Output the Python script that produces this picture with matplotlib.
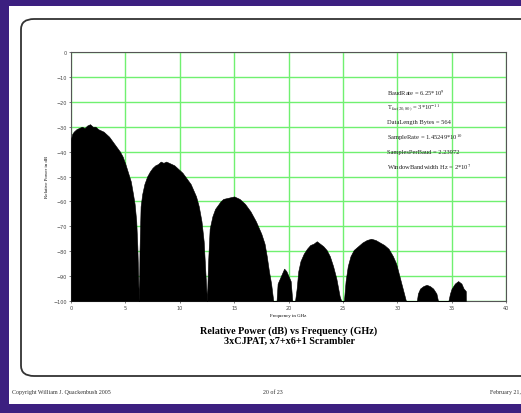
import matplotlib
matplotlib.use("Agg")
import matplotlib.pyplot as plt
from matplotlib.patches import FancyBboxPatch, Rectangle

# spectrum envelope (GHz, dB)
freq_ghz = [0.0, 0.1, 0.25, 0.5, 0.75, 1.0, 1.25, 1.5, 1.75, 2.0, 2.25, 2.5, 2.75, 3.0,
            3.25, 3.5, 3.75, 4.0, 4.25, 4.5, 4.75, 5.0, 5.25, 5.5, 5.7, 5.85, 6.0, 6.1,
            6.2, 6.25,
            6.3, 6.4, 6.55, 6.75, 7.0, 7.25, 7.5, 7.75, 8.0, 8.25, 8.5, 8.75, 9.0, 9.25,
            9.5, 9.75, 10.0, 10.25, 10.5, 10.75, 11.0, 11.25, 11.5, 11.75, 12.0, 12.2,
            12.35, 12.5,
            12.6, 12.75, 13.0, 13.25, 13.5, 13.75, 14.0, 14.5, 15.0, 15.25, 15.5, 16.0,
            16.5, 17.0, 17.5, 17.8, 18.0, 18.2, 18.4, 18.6, 18.9,
            19.0, 19.2, 19.4, 19.6, 19.8, 20.0, 20.2, 20.35, 20.6,
            20.75, 20.9, 21.1, 21.4, 21.7, 22.0, 22.3, 22.6, 22.9, 23.2, 23.5, 23.8,
            24.1, 24.4, 24.7, 24.85, 25.1,
            25.25, 25.45, 25.7, 26.0, 26.4, 26.8, 27.2, 27.6, 28.0, 28.4, 28.8, 29.2,
            29.6, 29.9, 30.2, 30.5, 30.8, 31.8,
            31.9, 32.1, 32.4, 32.7, 33.0, 33.3, 33.6, 33.75, 34.7,
            34.85, 35.0, 35.3, 35.6, 35.9, 36.1, 36.3, 36.31]
power_db = [-35, -33, -32, -31, -30.5, -30, -30.5, -29.5, -29, -30, -30, -31, -31.5, -32,
            -33, -34, -35.5, -37, -38.5, -40, -42, -45, -48.5, -52, -57, -61, -68, -78,
            -94, -100,
            -80, -62, -57, -53, -50, -48, -46.5, -45.5, -45, -44, -44.5, -44, -44.5, -45,
            -45.5, -46.5, -47.5, -48.5, -50, -51.5, -53, -55.5, -58, -62, -68, -76,
            -88, -100,
            -85, -71, -66, -63, -61.5, -60, -59, -58.5, -58, -58.5, -59, -61,
            -64, -68, -73, -77, -82, -88, -93, -100, -100,
            -93, -91, -89, -87, -88, -90, -92, -100, -100,
            -95, -88, -84, -81, -79, -77.5, -77, -76, -77, -78, -79.5, -82,
            -86, -91, -98, -100, -100,
            -92, -86, -82, -79.5, -78, -76.5, -75.5, -75, -75.5, -76.5, -77.5, -79,
            -82, -85, -90, -95, -100, -100,
            -97, -95, -94, -93.5, -94, -95, -97, -100, -100,
            -97, -95, -93, -92, -93, -95, -96, -100]

x_ticks = [0, 5, 10, 15, 20, 25, 30, 35, 40]
y_ticks = [0, -10, -20, -30, -40, -50, -60, -70, -80, -90, -100]

info_lines = [r"BaudRate = 6.25*10$^{9}$",
              r"T$_{\rm fac(20,80)}$ = 3*10$^{-11}$",
              r"DataLength Bytes = 564",
              r"SampleRate = 1.45249*10$^{10}$",
              r"SamplesPerBaud = 2.23972",
              r"WindowBandwidth Hz = 2*10$^{7}$"]

plt.rcParams["mathtext.fontset"] = "stix"
serif = "Liberation Serif"

fig = plt.figure(figsize=(5.21, 4.14), dpi=100)
fig.patch.set_facecolor("#3c1f80")

W, H = 521, 414
def fx(px):
    return px / W
def fy(py):
    return 1 - py / H

# white slide area
fig.patches.append(Rectangle((fx(9), fy(405)), fx(530) - fx(9), fy(7) - fy(405),
                             transform=fig.transFigure, facecolor="white",
                             edgecolor="none", zorder=0))
# rounded frame
fig.patches.append(FancyBboxPatch((fx(21), fy(377)), fx(560) - fx(21), fy(20) - fy(377),
                                  boxstyle="round,pad=0,rounding_size=0.025",
                                  transform=fig.transFigure, facecolor="white",
                                  edgecolor="#333333", linewidth=1.3, zorder=1))

ax = fig.add_axes([fx(71), fy(302), fx(506) - fx(71), fy(53) - fy(302)])
ax.set_zorder(2)
ax.set_facecolor("white")
ax.fill_between(freq_ghz, -100, power_db, color="black", linewidth=0.4, zorder=3)
ax.set_xlim(0, 40)
ax.set_ylim(-100, 0)
ax.set_xticks(x_ticks)
ax.set_yticks(y_ticks)
ax.set_xticklabels([str(v) for v in x_ticks])
ax.set_yticklabels(["0"] + ["\u2212" + str(-v) for v in y_ticks[1:]])
ax.grid(True, color="#70f070", linewidth=1.0, zorder=0)
ax.set_axisbelow(True)
ax.tick_params(labelsize=3.5, length=1.5, width=0.5, pad=1.5, colors="#444444")
for s in ax.spines.values():
    s.set_color("#555555")
    s.set_linewidth(0.8)
ax.set_xlabel("Frequency in GHz", fontsize=3.5, labelpad=2, family=serif)
ax.set_ylabel("Relative Power in dB", fontsize=3.5, labelpad=3, family=serif)

for i, line in enumerate(info_lines):
    fig.text(fx(387), fy(93 + 14.8 * i), line, fontsize=4.7, family=serif,
             color="#222222", va="center", ha="left", zorder=5)

fig.text(fx(289), fy(331), "Relative Power (dB) vs Frequency (GHz)", fontsize=7.3,
         family=serif, weight="bold", ha="center", va="center", zorder=5)
fig.text(fx(289), fy(341), "3xCJPAT, x7+x6+1 Scrambler", fontsize=7.3,
         family=serif, weight="bold", ha="center", va="center", zorder=5)

fig.text(fx(12), fy(393), "Copyright William J. Quackenbush 2005", fontsize=4.3,
         family=serif, color="#333333", va="center", zorder=5)
fig.text(fx(263), fy(393), "20 of 23", fontsize=4.3, family=serif, color="#333333",
         va="center", zorder=5)
fig.text(fx(490), fy(393), "February 21, 2005", fontsize=4.3, family=serif,
         color="#333333", va="center", zorder=5)

fig.savefig("out.png", dpi=100, facecolor=fig.get_facecolor())
